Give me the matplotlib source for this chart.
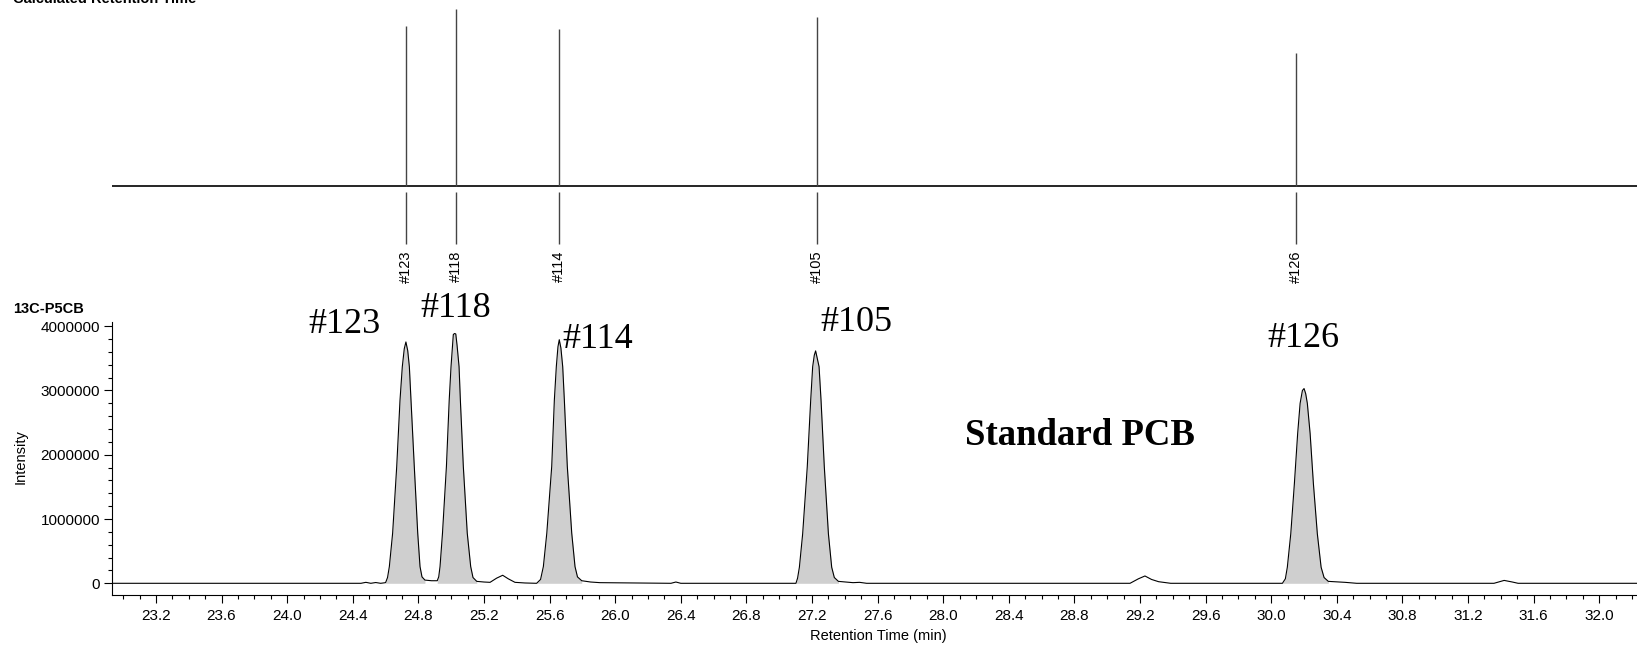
import numpy as np
import matplotlib.pyplot as plt
from matplotlib.ticker import MultipleLocator, FuncFormatter

# calculated retention times (upper panel)
calc_names = ['#123', '#118', '#114', '#105', '#126']
calc_rt = [24.723, 25.027, 25.657, 27.232, 30.149]
calc_height = [0.905, 1.0, 0.888, 0.955, 0.751]

# measured chromatogram trace, 13C-P5CB (time in min, intensity in millions)
trace_time = [
    22.93, 24.45, 24.48, 24.51, 24.54, 24.57, 24.600, 24.612,
    24.623, 24.643, 24.668, 24.688, 24.702, 24.714, 24.724, 24.735, 24.745,
    24.755, 24.775, 24.796, 24.810, 24.822, 24.840, 24.88, 24.915, 24.924,
    24.932, 24.947, 24.971, 24.988, 24.999, 25.013, 25.020, 25.028, 25.036,
    25.048, 25.056, 25.074, 25.098, 25.119, 25.133, 25.156,
    25.20, 25.237, 25.277, 25.314, 25.348, 25.389, 25.45, 25.521, 25.545,
    25.562, 25.583, 25.613, 25.629, 25.641, 25.651, 25.659, 25.669, 25.680,
    25.690, 25.708, 25.735, 25.755, 25.770, 25.796, 25.85, 25.907,
    26.34, 26.37, 26.40,
    27.102, 27.112, 27.123, 27.143, 27.171, 27.192, 27.204, 27.214, 27.222,
    27.232, 27.243, 27.255, 27.275, 27.300, 27.320, 27.336, 27.361, 27.45,
    27.49, 27.533,
    29.139, 29.19, 29.23, 29.27, 29.313, 29.387,
    30.068, 30.086, 30.098, 30.119, 30.141, 30.161, 30.176, 30.190, 30.200,
    30.210, 30.220, 30.237, 30.257, 30.281, 30.304, 30.322, 30.348, 30.45,
    30.521,
    31.358, 31.42, 31.47, 31.505,
    32.23,
]
trace_int = [
    0.0, 0.0, 0.015, 0.0, 0.012, 0.0, 0.01, 0.09,
    0.26, 0.78, 1.82, 2.85, 3.37, 3.65, 3.755, 3.62, 3.37,
    2.85, 1.82, 0.78, 0.26, 0.10, 0.05, 0.04, 0.04, 0.10,
    0.26, 0.78, 1.82, 2.85, 3.37, 3.87, 3.886, 3.88, 3.70,
    3.37, 2.85, 1.82, 0.78, 0.26, 0.09, 0.03,
    0.02, 0.015, 0.08, 0.125, 0.07, 0.015, 0.005, 0.0, 0.06,
    0.26, 0.78, 1.82, 2.85, 3.37, 3.68, 3.79, 3.66, 3.37,
    2.85, 1.82, 0.78, 0.26, 0.10, 0.04, 0.02, 0.01,
    0.0, 0.02, 0.0,
    0.0, 0.08, 0.25, 0.77, 1.81, 2.85, 3.37, 3.55, 3.616,
    3.50, 3.37, 2.85, 1.81, 0.77, 0.25, 0.09, 0.03, 0.01,
    0.015, 0.0,
    0.0, 0.07, 0.114, 0.06, 0.025, 0.0,
    0.0, 0.07, 0.25, 0.77, 1.55, 2.33, 2.80, 3.0, 3.03,
    2.95, 2.80, 2.33, 1.55, 0.77, 0.25, 0.09, 0.03, 0.015,
    0.0,
    0.0, 0.045, 0.02, 0.0,
    0.0,
]

# integrated peak windows (shaded)
peak_windows = [(24.600, 24.840), (24.915, 25.156), (25.521, 25.796),
                (27.102, 27.361), (30.068, 30.348)]

# peak labels: name, left x (min), baseline y (counts)
label_names = ['#123', '#118', '#114', '#105', '#126']
label_x = [24.127, 24.81, 25.68, 27.249, 29.974]
label_y = [3.894e6, 4.136e6, 3.661e6, 3.927e6, 3.676e6]

plt.rcParams['font.family'] = ['Liberation Sans', 'DejaVu Sans']

W, H = 1637, 646
fig = plt.figure(figsize=(W / 100, H / 100), dpi=100)

x0 = 112 / W
ax = fig.add_axes([x0, (H - 595) / H, 1 - x0, (595 - 321.7) / H])
ax_top = fig.add_axes([x0, 1 - 290 / H, 1 - x0, 290 / H])

t = np.array(trace_time)
y = np.array(trace_int) * 1e6

for a, b in peak_windows:
    m = (t >= a) & (t <= b)
    ax.fill_between(t[m], y[m], 0, color='#cfcfcf', lw=0)
ax.plot(t, y, color='black', lw=0.8)

ax.set_xlim(22.932, 32.23)
ax.set_ylim(-0.182e6, 4.07e6)
ax.spines['top'].set_visible(False)
ax.spines['right'].set_visible(False)
ax.xaxis.set_major_locator(MultipleLocator(0.4))
ax.xaxis.set_minor_locator(MultipleLocator(0.1))
ax.xaxis.set_major_formatter(FuncFormatter(lambda v, p: f'{v:.1f}'))
ax.yaxis.set_major_locator(MultipleLocator(1e6))
ax.yaxis.set_minor_locator(MultipleLocator(2e5))
ax.yaxis.set_major_formatter(FuncFormatter(lambda v, p: f'{int(round(v))}'))
ax.tick_params(which='major', length=5.5, width=0.8, labelsize=11)
ax.tick_params(axis='x', which='major', pad=4.5)
ax.tick_params(axis='y', which='major', pad=3)
ax.tick_params(which='minor', length=3.2, width=0.8)

for name, lx, ly in zip(label_names, label_x, label_y):
    ax.text(lx, ly, name, family='Liberation Serif', fontsize=26,
            ha='left', va='baseline')
ax.text(28.133, 2.148e6, 'Standard PCB', family='Liberation Serif',
        fontsize=26.5, fontweight='bold', ha='left', va='baseline')

# upper panel: calculated retention time markers
ax_top.set_xlim(22.932, 32.23)
ax_top.set_ylim(-0.592, 1.053)
ax_top.axis('off')
ax_top.axhline(0, color='black', lw=1.2)
ax_top.vlines(calc_rt, 0, calc_height, color='#444444', lw=1.0)
ax_top.vlines(calc_rt, -0.0374, -0.333, color='#444444', lw=1.0)
for name, rt in zip(calc_names, calc_rt):
    ax_top.text(rt, -0.37, name, rotation=90, fontsize=10.5,
                ha='center', va='top')

fig.text(13 / W, 1 - 3 / H, 'Calculated Retention Time', fontsize=10.5,
         fontweight='bold', ha='left', va='baseline')
fig.text(13 / W, 1 - 312.7 / H, '13C-P5CB', fontsize=10.5,
         fontweight='bold', ha='left', va='baseline')
fig.text(21 / W, 1 - 456.7 / H, 'Intensity', fontsize=10.5, rotation=90,
         ha='center', va='center')
fig.text(878 / W, 1 - 636 / H, 'Retention Time (min)', fontsize=10.5,
         ha='center', va='center')

fig.savefig('out.png', dpi=100)
